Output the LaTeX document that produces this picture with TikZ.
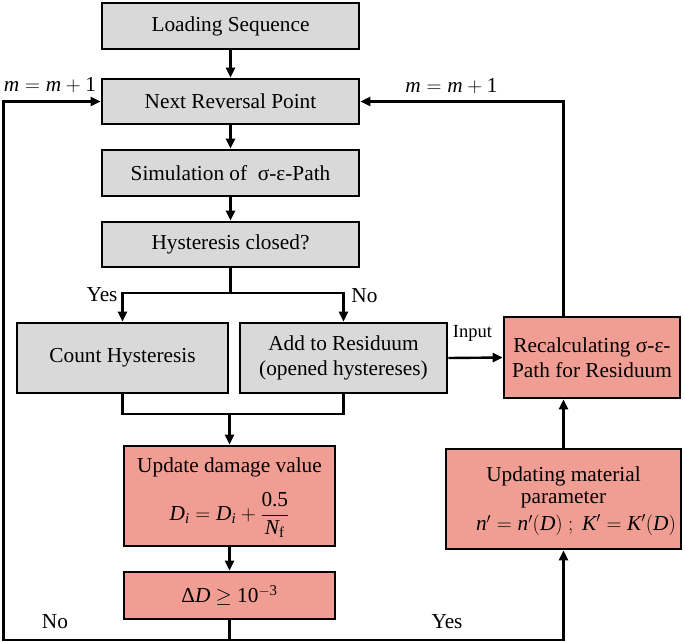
\documentclass[tikz,border=0pt]{standalone}
\usepackage{amsmath}
\usepackage{fontspec}
\setmainfont{Liberation Serif}
\usetikzlibrary{arrows.meta}
\definecolor{gfill}{RGB}{217,217,217}
\definecolor{rfill}{RGB}{240,158,147}
\begin{document}
\begin{tikzpicture}[x=1pt,y=-1pt,
  box/.style={draw=black, line width=2.6pt, align=center, inner sep=0pt, font=\fontsize{21.3}{25}\selectfont},
  gbox/.style={box, fill=gfill},
  rbox/.style={box, fill=rfill},
  arr/.style={line width=2.4pt, -{Triangle[length=10pt,width=9pt]}},
  ln/.style={line width=2.4pt},
  lbl/.style={font=\fontsize{21.3}{25}\selectfont, inner sep=0pt},
  slbl/.style={font=\fontsize{18.5}{22}\selectfont, inner sep=0pt}]
\useasboundingbox (0,0) rectangle (685,642);

\node[gbox, minimum width=257pt, minimum height=46pt] (load) at (230.5,26) {Loading Sequence};
\node[gbox, minimum width=257pt, minimum height=45pt] (next) at (230.5,101.5) {Next Reversal Point};
\node[gbox, minimum width=257pt, minimum height=46pt] (sim) at (230.5,173) {Simulation of~ σ-ε-Path};
\node[gbox, minimum width=257pt, minimum height=45pt] (hyst) at (230.5,244.5) {Hysteresis closed?};
\node[gbox, minimum width=211pt, minimum height=70pt] (count) at (122.5,358) {Count Hysteresis};
\node[gbox, minimum width=207pt, minimum height=70pt] (add) at (343.5,358) {Add to Residuum\\(opened hystereses)};
\node[rbox, minimum width=176pt, minimum height=81pt] (recalc) at (592,357.5) {Recalculating σ-ε-\\Path for Residuum};
\node[rbox, minimum width=211pt, minimum height=100pt] (upd) at (229.5,496) {};
\node[lbl] (updt) at (229.5,467) {Update damage value};
\node[lbl] (updf) at (229.5,515) {$\textit{D}_{\textit{i}} = \textit{D}_{\textit{i}} + \dfrac{\textup{0.5}}{\textit{N}_{\textup{f}}}$};
\node[rbox, minimum width=211pt, minimum height=47pt] (dd) at (229.5,595.5) {Δ\textit{D} $\geq$ \textup{10}$^{-\textup{3}}$};
\node[rbox, minimum width=235pt, minimum height=100pt] (mat) at (563.5,499) {};
\node[lbl] (matt) at (563.5,476) {Updating material};
\node[lbl] (matp) at (563.5,500) {parameter};
\node[lbl] (matf) at (576,525) {$\textit{n}' = \textit{n}'(\textit{D})\ ;\ \textit{K}' = \textit{K}'(\textit{D})$};

\coordinate (br) at (230.5,293);
\coordinate (mg) at (229.5,414);
\coordinate (lft) at (3.5,640);

\draw[arr] (load) -- (next);
\draw[arr] (next) -- (sim);
\draw[arr] (sim) -- (hyst);
\draw[ln] (hyst.south) -- (br);
\draw[arr] (br) -| (count.north);
\draw[arr] (br) -| (add.north);
\draw[ln] (count.south) |- (mg);
\draw[ln] (add.south) |- (mg);
\draw[arr] (mg) -- (upd.north);
\draw[arr] (upd) -- (dd);
\draw[arr] (add.east) -- (recalc.west);
\draw[arr] (dd.south) |- (lft) |- (next.west);
\draw[arr] (dd.south |- lft) -| (mat.south);
\draw[arr] (mat.north) -- (mat.north |- recalc.south);
\draw[arr] (mat.north |- recalc.north) |- (next.east);

\node[lbl] (m1) at (50,85) {$\textit{m} = \textit{m} + \textup{1}$};
\node[lbl] (m2) at (451.5,86) {$\textit{m} = \textit{m} + \textup{1}$};
\node[lbl] (yes1) at (102,295) {Yes};
\node[lbl] (no1) at (364.5,296) {No};
\node[slbl] (inp) at (472.5,333) {Input};
\node[lbl] (no2) at (55,622) {No};
\node[lbl] (yes2) at (447,622) {Yes};
\end{tikzpicture}
\end{document}
